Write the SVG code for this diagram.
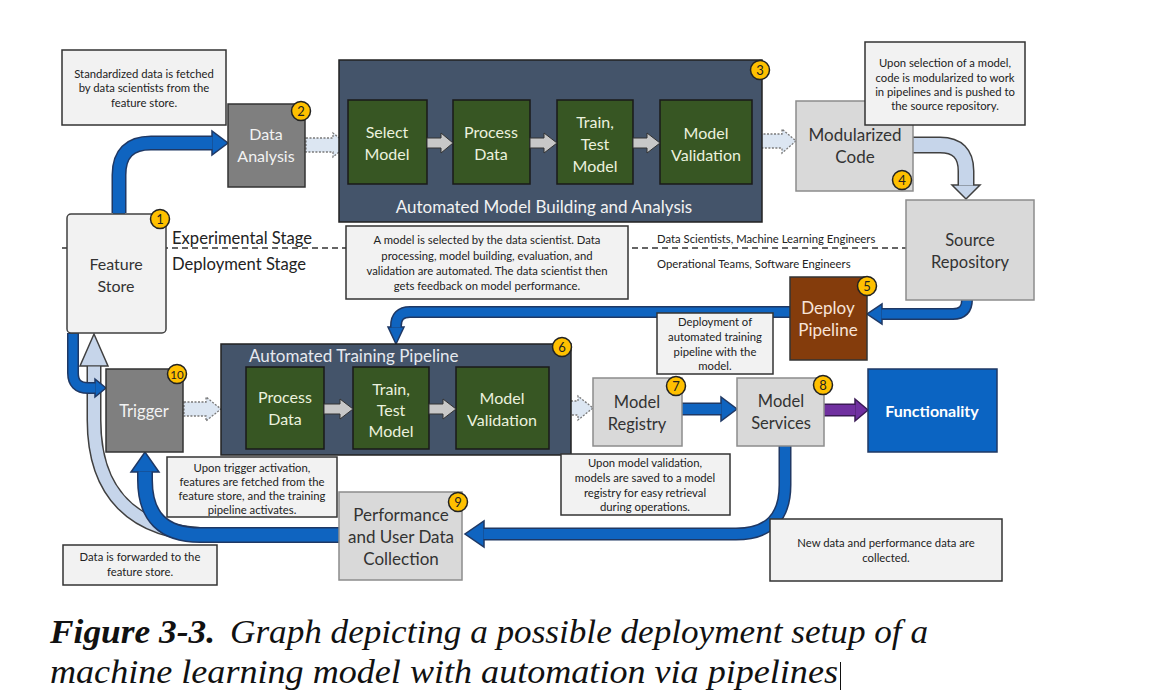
<svg xmlns="http://www.w3.org/2000/svg" width="1149" height="690" viewBox="0 0 1149 690">
<style>
.t{font-family:Lato,"Open Sans","Liberation Sans",sans-serif;text-anchor:middle}
.lbl{font-size:16px}
.wl{fill:#f2f2f2}
.gl{fill:#ebf1de}
.dl{fill:#333}
.note{fill:#f2f2f2;stroke:#333;stroke-width:1.5}
.nt{font-size:11.3px;fill:#222}
.grn{fill:#375623;stroke:#1a1a1a;stroke-width:1.5}
.slate{fill:#44546a;stroke:#222;stroke-width:1.5}
.lg{fill:#d9d9d9;stroke:#8c8c8c;stroke-width:1.5}
.dg{fill:#7f7f7f;stroke:#333;stroke-width:1.5}
.bd circle{fill:#ffc000;stroke:#222;stroke-width:1.5}
.bd text{font-family:Lato,"Liberation Sans",sans-serif;font-size:13px;text-anchor:middle;fill:#222}
.bo{fill:none;stroke:#1f3864;stroke-linecap:butt}
.bi{fill:none;stroke:#0f64c0;stroke-linecap:butt}
.bh{fill:#0f64c0;stroke:#1f3864;stroke-width:1.5;stroke-linejoin:miter}
.lo{fill:none;stroke:#404040;stroke-linecap:butt}
.li{fill:none;stroke:#c6d5ea;stroke-linecap:butt}
.lh{fill:#c6d5ea;stroke:#404040;stroke-width:1.5}
.dot{fill:#dce6f2;stroke:#7a7a7a;stroke-width:1.3;stroke-dasharray:2 1.5}
.ga{fill:#c8c8c8;stroke:#333;stroke-width:1}
.st{font-family:Lato,"Open Sans","Liberation Sans",sans-serif;fill:#222}
</style>

<!-- stage divider -->
<g id="divider">
<line x1="62" y1="248" x2="906" y2="248" stroke="#333" stroke-width="1.5" stroke-dasharray="6 4"/>
<text class="st" x="172" y="244" font-size="16.6">Experimental Stage</text>
<text class="st" x="172" y="270" font-size="16.6">Deployment Stage</text>
<text class="st" x="657" y="243" font-size="11.3">Data Scientists, Machine Learning Engineers</text>
<text class="st" x="657" y="268" font-size="11.3">Operational Teams, Software Engineers</text>
</g>

<g id="connectors">
<!-- light blue feedback to feature store -->
<path class="lo" stroke-width="15" d="M215,535 C130,535 94,490 94,420 V366"/>
<polygon class="lh" points="80,366 108,366 94,334"/>
<path class="li" stroke-width="12" d="M215,535 C130,535 94,490 94,420 V366.5"/>

<!-- Feature Store -> Data Analysis -->
<path class="bo" stroke-width="15" d="M119,213 V175 Q119,143 151,143 H212"/>
<polygon class="bh" points="212,131 212,155 228,143"/>
<path class="bi" stroke-width="12" d="M119,214 V175 Q119,143 151,143 H212.5"/>

<!-- Feature Store -> Trigger -->
<path class="bo" stroke-width="12" d="M73,333 V373 Q73,388 88,388 H95"/>
<polygon class="bh" points="95,379 95,397 106,388"/>
<path class="bi" stroke-width="9" d="M73,334 V373 Q73,388 88,388 H95.5"/>

<!-- Performance -> Trigger -->
<path class="bo" stroke-width="16" d="M341,535 H200 Q145,535 145,480 V472"/>
<polygon class="bh" points="131,472 159,472 145,452"/>
<path class="bi" stroke-width="13" d="M341,535 H200 Q145,535 145,480 V471.5"/>

<!-- Model Services -> Performance -->
<path class="bo" stroke-width="13" d="M785,446 V485 Q785,534 736,534 H484"/>
<polygon class="bh" points="484,521 484,547 465,534"/>
<path class="bi" stroke-width="10" d="M785,445 V485 Q785,534 736,534 H483.5"/>

<!-- Source Repository -> Deploy Pipeline -->
<path class="bo" stroke-width="12" d="M967,300 Q967,314 953,314 H882"/>
<polygon class="bh" points="882,304 882,324 867,314"/>
<path class="bi" stroke-width="9" d="M967,299 Q967,314 953,314 H881.5"/>

<!-- Deploy Pipeline -> Training Pipeline -->
<path class="bo" stroke-width="12" d="M790,312 H410 Q396,312 396,326 V327"/>
<polygon class="bh" points="388,327 404,327 396,344"/>
<path class="bi" stroke-width="9" d="M791,312 H410 Q396,312 396,326 V327.5"/>

<!-- Model Registry -> Model Services -->
<path class="bo" stroke-width="13" d="M682,409 H721"/>
<polygon class="bh" points="721,397 721,421 737,409"/>
<path class="bi" stroke-width="10" d="M681,409 H721.5"/>

<!-- Model Services -> Functionality -->
<path fill="none" stroke="#3a1a55" stroke-width="13" d="M824,410 H855"/>
<polygon fill="#7030a0" stroke="#3a1a55" stroke-width="1.5" points="855,399 855,421 868,410"/>
<path fill="none" stroke="#7030a0" stroke-width="10" d="M823,410 H855.5"/>

<!-- Modularized Code -> Source Repository -->
<path class="lo" stroke-width="17" d="M912,145 H940 Q966,145 966,171 V185"/>
<polygon class="lh" points="952,185 980,185 966,199"/>
<path class="li" stroke-width="14" d="M911,145 H940 Q966,145 966,171 V185.5"/>

<!-- dotted light arrows -->
<polygon class="dot" points="306,138 333,138 333,133 348,145 333,157 333,152 306,152"/>
<polygon class="dot" points="753,134 782,134 782,129 796,141 782,153 782,148 753,148"/>
<polygon class="dot" points="184,402 206,402 206,397 221,409 206,421 206,416 184,416"/>
<polygon class="dot" points="550,401 578,401 578,396 593,408 578,420 578,415 550,415"/>
</g>

<!-- Feature Store -->
<g id="feature-store">
<rect x="67" y="214" width="99" height="119" rx="4" fill="#f2f2f2" stroke="#404040" stroke-width="1.5"/>
<text class="t lbl dl" x="116" y="270">Feature</text>
<text class="t lbl dl" x="116" y="292">Store</text>
<g class="bd"><circle cx="160" cy="219" r="9.5"/><text x="160" y="224">1</text></g>
</g>

<!-- Data Analysis -->
<g id="data-analysis">
<rect class="dg" x="228" y="104" width="77" height="83"/>
<text class="t lbl wl" x="266" y="140">Data</text>
<text class="t lbl wl" x="266" y="162">Analysis</text>
<g class="bd"><circle cx="301" cy="111" r="9.5"/><text x="301" y="116">2</text></g>
</g>

<!-- Automated Model Building -->
<g id="model-building">
<rect class="slate" x="339" y="60" width="423" height="162"/>
<rect class="grn" x="348" y="100" width="79" height="84"/>
<text class="t lbl gl" x="387" y="138">Select</text>
<text class="t lbl gl" x="387" y="160">Model</text>
<rect class="grn" x="453" y="100" width="77" height="84"/>
<text class="t lbl gl" x="491" y="138">Process</text>
<text class="t lbl gl" x="491" y="160">Data</text>
<rect class="grn" x="557" y="100" width="76" height="84"/>
<text class="t lbl gl" x="595" y="128">Train,</text>
<text class="t lbl gl" x="595" y="150">Test</text>
<text class="t lbl gl" x="595" y="172">Model</text>
<rect class="grn" x="660" y="100" width="92" height="84"/>
<text class="t lbl gl" x="706" y="139">Model</text>
<text class="t lbl gl" x="706" y="161">Validation</text>
<polygon class="ga" points="427,138 441,138 441,133 453,143 441,153 441,148 427,148"/>
<polygon class="ga" points="530,138 544,138 544,133 557,143 544,153 544,148 530,148"/>
<polygon class="ga" points="633,138 647,138 647,133 660,143 647,153 647,148 633,148"/>
<text class="t wl" x="544" y="213" font-size="17">Automated Model Building and Analysis</text>
<g class="bd"><circle cx="760" cy="70" r="9.5"/><text x="760" y="75">3</text></g>
</g>

<!-- Modularized Code -->
<g id="modularized-code">
<rect class="lg" x="796" y="101" width="117" height="90"/>
<text class="t dl" x="855" y="141" font-size="17">Modularized</text>
<text class="t dl" x="855" y="163" font-size="17">Code</text>
<g class="bd"><circle cx="902" cy="180" r="9.5"/><text x="902" y="185">4</text></g>
</g>

<!-- Source Repository -->
<g id="source-repository">
<rect class="lg" x="906" y="200" width="128" height="100"/>
<text class="t dl" x="970" y="246" font-size="16.5">Source</text>
<text class="t dl" x="970" y="268" font-size="16.5">Repository</text>
</g>

<!-- Deploy Pipeline -->
<g id="deploy-pipeline">
<rect x="790" y="277" width="77" height="83" fill="#843c0c" stroke="#333" stroke-width="1.5"/>
<text class="t" x="828" y="314" font-size="17" fill="#f8e4d8">Deploy</text>
<text class="t" x="828" y="336" font-size="17" fill="#f8e4d8">Pipeline</text>
<g class="bd"><circle cx="867" cy="286" r="9.5"/><text x="867" y="291">5</text></g>
</g>

<!-- Automated Training Pipeline -->
<g id="training-pipeline">
<rect class="slate" x="221" y="344" width="350" height="111"/>
<text class="st" x="249" y="362" font-size="17" style="fill:#e6e9ef">Automated Training Pipeline</text>
<rect class="grn" x="246" y="367" width="78" height="82"/>
<text class="t lbl gl" x="285" y="403">Process</text>
<text class="t lbl gl" x="285" y="425">Data</text>
<rect class="grn" x="353" y="367" width="76" height="82"/>
<text class="t lbl gl" x="391" y="395">Train,</text>
<text class="t lbl gl" x="391" y="416">Test</text>
<text class="t lbl gl" x="391" y="437">Model</text>
<rect class="grn" x="456" y="367" width="93" height="82"/>
<text class="t lbl gl" x="502" y="404">Model</text>
<text class="t lbl gl" x="502" y="426">Validation</text>
<polygon class="ga" points="324,404 340,404 340,399 353,409 340,419 340,414 324,414"/>
<polygon class="ga" points="429,404 443,404 443,399 456,409 443,419 443,414 429,414"/>
<g class="bd"><circle cx="562" cy="347" r="9.5"/><text x="562" y="352">6</text></g>
</g>

<!-- Trigger -->
<g id="trigger">
<rect class="dg" x="106" y="369" width="77" height="83"/>
<text class="t wl" x="144" y="417" font-size="16.5">Trigger</text>
<g class="bd"><circle cx="177" cy="374" r="9.5"/><text x="177" y="378.5" style="font-size:11.5px">10</text></g>
</g>

<!-- Model Registry -->
<g id="model-registry">
<rect class="lg" x="593" y="378" width="89" height="68"/>
<text class="t dl" x="637" y="408" font-size="16.5">Model</text>
<text class="t dl" x="637" y="430" font-size="16.5">Registry</text>
<g class="bd"><circle cx="676" cy="386" r="9.5"/><text x="676" y="391">7</text></g>
</g>

<!-- Model Services -->
<g id="model-services">
<rect class="lg" x="737" y="378" width="87" height="68"/>
<text class="t dl" x="781" y="407" font-size="16.5">Model</text>
<text class="t dl" x="781" y="429" font-size="16.5">Services</text>
<g class="bd"><circle cx="823" cy="385" r="9.5"/><text x="823" y="390">8</text></g>
</g>

<!-- Functionality -->
<g id="functionality">
<rect x="868" y="369" width="129" height="83" fill="#0b64c2" stroke="#1f3864" stroke-width="1.5"/>
<text class="t" x="932" y="417" font-size="16" font-weight="bold" fill="#ffffff">Functionality</text>
</g>

<!-- Performance -->
<g id="performance">
<rect class="lg" x="339" y="492" width="123" height="88"/>
<text class="t dl" x="401" y="521" font-size="17">Performance</text>
<text class="t dl" x="401" y="543" font-size="17">and User Data</text>
<text class="t dl" x="401" y="565" font-size="17">Collection</text>
<g class="bd"><circle cx="458" cy="502" r="9.5"/><text x="458" y="507">9</text></g>
</g>

<!-- Notes -->
<g id="note-data-fetch">
<rect class="note" x="62" y="50" width="164" height="75"/>
<text class="t nt" x="144" y="78">Standardized data is fetched</text>
<text class="t nt" x="144" y="92">by data scientists from the</text>
<text class="t nt" x="144" y="107">feature store.</text>
</g>
<g id="note-modularize">
<rect class="note" x="865" y="42" width="160" height="83"/>
<text class="t nt" x="945" y="67">Upon selection of a model,</text>
<text class="t nt" x="945" y="82">code is modularized to work</text>
<text class="t nt" x="945" y="96">in pipelines and is pushed to</text>
<text class="t nt" x="945" y="110">the source repository.</text>
</g>
<g id="note-model-select">
<rect class="note" x="346" y="226" width="282" height="73"/>
<text class="t nt" x="487" y="244">A model is selected by the data scientist. Data</text>
<text class="t nt" x="487" y="260">processing, model building, evaluation, and</text>
<text class="t nt" x="487" y="275">validation are automated. The data scientist then</text>
<text class="t nt" x="487" y="290">gets feedback on model performance.</text>
</g>
<g id="note-deployment">
<rect class="note" x="657" y="313" width="116" height="61"/>
<text class="t nt" x="715" y="326">Deployment of</text>
<text class="t nt" x="715" y="341">automated training</text>
<text class="t nt" x="715" y="356">pipeline with the</text>
<text class="t nt" x="715" y="370">model.</text>
</g>
<g id="note-trigger">
<rect class="note" x="167" y="457" width="170" height="60"/>
<text class="t nt" x="252" y="472">Upon trigger activation,</text>
<text class="t nt" x="252" y="486">features are fetched from the</text>
<text class="t nt" x="252" y="500">feature store, and the training</text>
<text class="t nt" x="252" y="514">pipeline activates.</text>
</g>
<g id="note-registry">
<rect class="note" x="561" y="454" width="169" height="61"/>
<text class="t nt" x="645" y="467">Upon model validation,</text>
<text class="t nt" x="645" y="482">models are saved to a model</text>
<text class="t nt" x="645" y="497">registry for easy retrieval</text>
<text class="t nt" x="645" y="511">during operations.</text>
</g>
<g id="note-collected">
<rect class="note" x="770" y="519" width="232" height="62"/>
<text class="t nt" x="886" y="547">New data and performance data are</text>
<text class="t nt" x="886" y="562">collected.</text>
</g>
<g id="note-forward">
<rect class="note" x="63" y="545" width="154" height="40"/>
<text class="t nt" x="140" y="561">Data is forwarded to the</text>
<text class="t nt" x="140" y="576">feature store.</text>
</g>

<!-- Caption -->
<g id="caption" font-family="'Liberation Serif',serif" font-style="italic" fill="#111">
<text x="50" y="643" font-size="33" font-weight="bold" textLength="165" lengthAdjust="spacingAndGlyphs">Figure 3-3.</text>
<text x="230" y="643" font-size="33" textLength="698" lengthAdjust="spacingAndGlyphs">Graph depicting a possible deployment setup of a</text>
<text x="50" y="683" font-size="33" textLength="788" lengthAdjust="spacingAndGlyphs">machine learning model with automation via pipelines</text>
<line x1="840.5" y1="662" x2="840.5" y2="690" stroke="#111" stroke-width="1"/>
</g>
</svg>
